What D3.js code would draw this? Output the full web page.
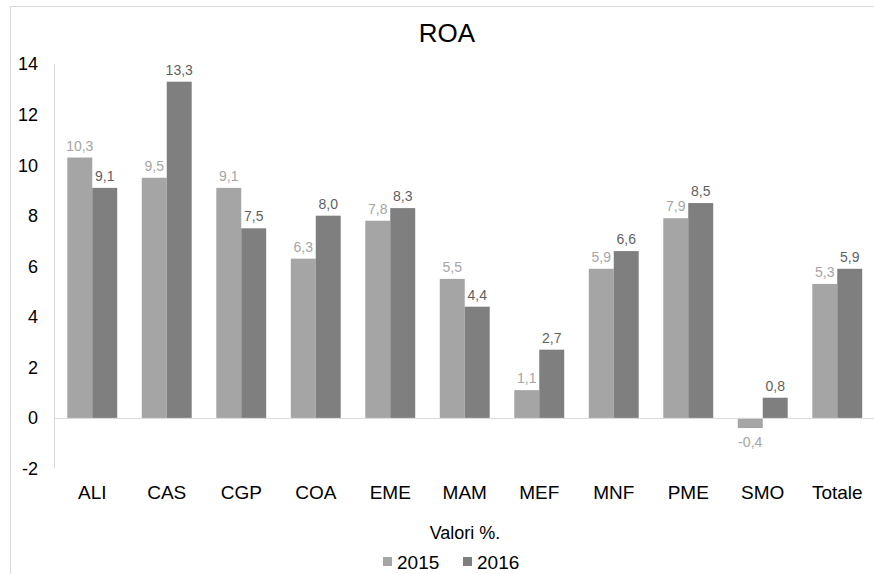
<!DOCTYPE html>
<html>
<head>
<meta charset="utf-8">
<script src="https://cdn.jsdelivr.net/npm/d3@7"></script>
<style>
  body { margin: 0; background: #fff; }
  svg { font-family: "Liberation Sans", Arial, sans-serif; }
</style>
</head>
<body>
<svg id="chart"></svg>
<script>
//chart data
const categories = ["ALI", "CAS", "CGP", "COA", "EME", "MAM", "MEF", "MNF", "PME", "SMO", "Totale"];
const years = ["2015", "2016"];
const roa2015 = [10.3, 9.5, 9.1, 6.3, 7.8, 5.5, 1.1, 5.9, 7.9, -0.4, 5.3];
const roa2016 = [9.1, 13.3, 7.5, 8.0, 8.3, 4.4, 2.7, 6.6, 8.5, 0.8, 5.9];
const yTicks = [-2, 0, 2, 4, 6, 8, 10, 12, 14];

const width = 874, height = 574;
const colors = {"2015": "#a5a5a5", "2016": "#7f7f7f"};
const labelColors = {"2015": "#a5a5a5", "2016": "#5f5f5f"};

const svg = d3.select("#chart")
    .attr("width", width)
    .attr("height", height);

//outer chart border
svg.append("rect")
    .attr("x", 10.5).attr("y", 6.5)
    .attr("width", 880).attr("height", 600)
    .attr("fill", "none")
    .attr("stroke", "#d9d9d9");

const x0 = d3.scaleBand()
    .domain(categories)
    .range([55, 874.5])
    .paddingInner(0.33)
    .paddingOuter(0.165);

const x1 = d3.scaleBand()
    .domain(years)
    .range([0, x0.bandwidth()]);

const y = d3.scaleLinear()
    .domain([-2, 14])
    .range([468.5, 64]);

//title
svg.append("text")
    .attr("x", 447).attr("y", 42)
    .attr("text-anchor", "middle")
    .style("font-size", "26px")
    .attr("fill", "#000")
    .text("ROA");

//y axis line
svg.append("line")
    .attr("x1", 54.5).attr("x2", 54.5)
    .attr("y1", y(14)).attr("y2", y(-2))
    .attr("stroke", "#d9d9d9");

//y tick labels
svg.selectAll(".ytick")
    .data(yTicks)
    .join("text")
    .attr("class", "ytick")
    .attr("x", 38)
    .attr("y", d => y(d))
    .attr("dy", "0.36em")
    .attr("text-anchor", "end")
    .style("font-size", "18px")
    .attr("fill", "#000")
    .text(d => d);

const rows = categories.map((c, i) => ({cat: c, values: [
    {year: "2015", v: roa2015[i]},
    {year: "2016", v: roa2016[i]}
]}));

const fmt = v => d3.format(".1f")(v).replace(".", ",").replace("−", "-");

const groups = svg.selectAll(".grp")
    .data(rows)
    .join("g")
    .attr("class", "grp")
    .attr("transform", d => `translate(${x0(d.cat)},0)`);

groups.selectAll("rect")
    .data(d => d.values)
    .join("rect")
    .attr("x", d => x1(d.year))
    .attr("width", x1.bandwidth())
    .attr("y", d => y(Math.max(0, d.v)))
    .attr("height", d => Math.abs(y(d.v) - y(0)))
    .attr("fill", d => colors[d.year]);

//value labels
groups.selectAll(".val")
    .data(d => d.values)
    .join("text")
    .attr("class", "val")
    .attr("x", d => x1(d.year) + x1.bandwidth() / 2)
    .attr("y", d => d.v >= 0 ? y(d.v) - 7 : y(d.v) + 19)
    .attr("text-anchor", "middle")
    .style("font-size", "14px")
    .attr("fill", d => labelColors[d.year])
    .text(d => fmt(d.v));

//zero line
svg.append("line")
    .attr("x1", 55).attr("x2", 874)
    .attr("y1", y(0) + 0.5).attr("y2", y(0) + 0.5)
    .attr("stroke", "#d9d9d9");

//x category labels
svg.selectAll(".xlab")
    .data(categories)
    .join("text")
    .attr("class", "xlab")
    .attr("x", d => x0(d) + x0.bandwidth() / 2)
    .attr("y", 499)
    .attr("text-anchor", "middle")
    .style("font-size", "19px")
    .attr("fill", "#000")
    .text(d => d);

//axis title
svg.append("text")
    .attr("x", 465).attr("y", 539)
    .attr("text-anchor", "middle")
    .style("font-size", "18px")
    .attr("fill", "#000")
    .text("Valori %.");

//legend
const legend = svg.selectAll(".leg")
    .data(years)
    .join("g")
    .attr("class", "leg")
    .attr("transform", (d, i) => `translate(${383 + i * 80},0)`);

legend.append("rect")
    .attr("x", 0).attr("y", 557)
    .attr("width", 9).attr("height", 9)
    .attr("fill", d => colors[d]);

legend.append("text")
    .attr("x", 14).attr("y", 569)
    .style("font-size", "19px")
    .attr("fill", "#000")
    .text(d => d);
</script>
</body>
</html>
